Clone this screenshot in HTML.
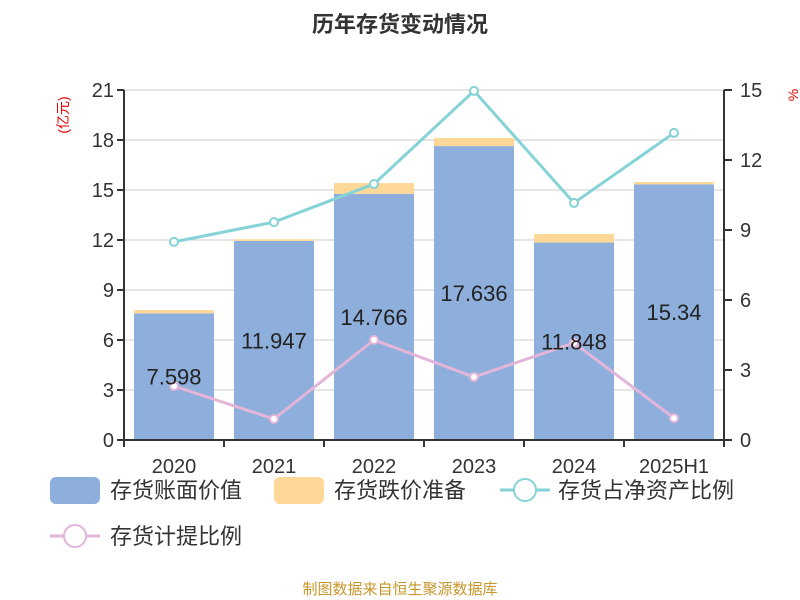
<!DOCTYPE html>
<html><head><meta charset="utf-8"><style>
body{margin:0;background:#fff;}
svg{display:block;font-family:"Liberation Sans","Noto Sans CJK SC",sans-serif;}
</style></head><body>
<svg id="c" width="800" height="600">
<text x="400" y="32" text-anchor="middle" font-size="22" font-weight="bold" fill="#333">历年存货变动情况</text>
<text transform="translate(68,115) rotate(-90)" text-anchor="middle" font-size="14" fill="#e00">(亿元)</text>
<text transform="translate(798,95) rotate(-90)" text-anchor="middle" font-size="14" fill="#e00">%</text>
<g id="grid"></g><g id="bars"></g><g id="lines"></g><g id="axes"></g>
<g font-size="22" fill="#333">
<rect x="50" y="477" width="50" height="27" rx="6" fill="#8eaedb"/>
<text x="110" y="498">存货账面价值</text>
<rect x="274" y="477" width="50" height="27" rx="6" fill="#ffd898"/>
<text x="334" y="498">存货跌价准备</text>
<line x1="500" y1="490" x2="550" y2="490" stroke="#85d3d6" stroke-width="3"/>
<circle cx="525" cy="490" r="11" fill="#fff" stroke="#85d3d6" stroke-width="2"/>
<text x="558" y="498">存货占净资产比例</text>
<line x1="50" y1="536" x2="100" y2="536" stroke="#e3b6d9" stroke-width="3"/>
<circle cx="75" cy="536" r="11" fill="#fff" stroke="#e3b6d9" stroke-width="2"/>
<text x="110" y="544">存货计提比例</text>
</g>
<text x="400" y="594" text-anchor="middle" font-size="15" fill="#c8962a">制图数据来自恒生聚源数据库</text>
</svg>
<script>
const categories=["2020","2021","2022","2023","2024","2025H1"];
const bookValue=[7.598,11.947,14.766,17.636,11.848,15.34];
const provision=[0.2,0.1,0.65,0.48,0.51,0.14];
const inventoryRatio=[8.49,9.34,10.97,14.96,10.16,13.16];
const provisionRatio=[2.31,0.9,4.29,2.7,4.16,0.94];
const leftTicks=[0,3,6,9,12,15,18,21];
const rightTicks=[0,3,6,9,12,15];
const NS="http://www.w3.org/2000/svg";
const X0=124,X1=724,Y0=440,Y1=90;
const band=(X1-X0)/categories.length;
const xc=i=>X0+band*(i+0.5);
const yL=v=>Y0-(v/21)*(Y0-Y1);
const yR=v=>Y0-(v/15)*(Y0-Y1);
function mk(tag,attrs,parent,txt){const e=document.createElementNS(NS,tag);for(const k in attrs)e.setAttribute(k,attrs[k]);if(txt!=null)e.textContent=txt;document.getElementById(parent).appendChild(e);return e;}
leftTicks.forEach(t=>{
 const g=mk("line",{x1:X0,x2:X1,y1:yL(t),y2:yL(t),stroke:"#ccc","stroke-width":1},"grid");
 
 
 mk("line",{x1:X0-7,x2:X0,y1:yL(t),y2:yL(t),stroke:"#333","stroke-width":2},"axes");
 const l=mk("text",{x:X0-10,y:yL(t)+7,"text-anchor":"end","font-size":20,fill:"#333"},"axes",t);
 
 
});
rightTicks.forEach(t=>{
 mk("line",{x1:X1,x2:X1+8,y1:yR(t),y2:yR(t),stroke:"#333","stroke-width":2},"axes");
 const l=mk("text",{x:X1+16,y:yR(t)+7,"font-size":20,fill:"#333"},"axes",t);
 
 
});
mk("line",{x1:X0,x2:X0,y1:Y1,y2:Y0,stroke:"#333","stroke-width":2},"axes");
mk("line",{x1:X1,x2:X1,y1:Y1,y2:Y0,stroke:"#333","stroke-width":2},"axes");
mk("line",{x1:X0,x2:X1,y1:Y0,y2:Y0,stroke:"#333","stroke-width":2},"axes");
categories.forEach((c,i)=>{
 mk("line",{x1:X0+band*i,x2:X0+band*i,y1:Y0,y2:Y0+7,stroke:"#333","stroke-width":2},"axes");
 const l=mk("text",{x:xc(i),y:Y0+33,"text-anchor":"middle","font-size":20,fill:"#333"},"axes",c);
 
 
 const b=mk("rect",{x:xc(i)-40,y:yL(bookValue[i]),width:80,height:Y0-yL(bookValue[i]),fill:"#8eaedb"},"bars");
 
 
 const p=mk("rect",{x:xc(i)-40,y:yL(bookValue[i]+provision[i]),width:80,height:yL(bookValue[i])-yL(bookValue[i]+provision[i]),fill:"#ffd898"},"bars");
 
 
});
mk("line",{x1:X1,x2:X1,y1:Y0,y2:Y0+7,stroke:"#333","stroke-width":2},"axes");
function line(vals,color,name){
 const pl=mk("polyline",{points:vals.map((v,i)=>xc(i)+","+yR(v)).join(" "),fill:"none",stroke:color,"stroke-width":3},"lines");
 
 
 vals.forEach((v,i)=>{
  const c=mk("circle",{cx:xc(i),cy:yR(v),r:4,fill:"#fff",stroke:color,"stroke-width":2},"lines");
  
  
 });
}
line(inventoryRatio,"#85d3d6","inventory-ratio");
line(provisionRatio,"#e3b6d9","provision-ratio");
bookValue.forEach((v,i)=>{
 const l=mk("text",{x:xc(i),y:yL(v/2)+8,"text-anchor":"middle","font-size":22,fill:"#222"},"lines",v);
 
 
});
</script>
</body></html>
